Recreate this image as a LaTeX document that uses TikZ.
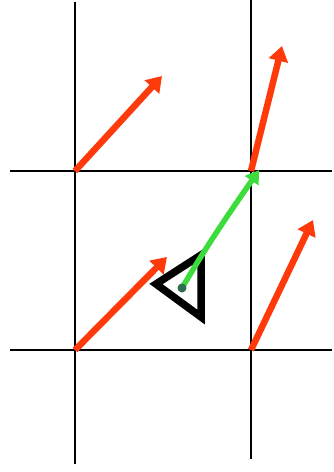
\documentclass[tikz,border=0pt]{standalone}
\usetikzlibrary{arrows.meta}
\definecolor{vred}{HTML}{FF3A0A}
\definecolor{vgreen}{HTML}{3CDC3C}
\definecolor{dotgreen}{HTML}{2E6E50}
\begin{document}
\begin{tikzpicture}[x=1pt,y=-1pt,
  grid/.style={black,line width=2pt},
  vec/.style={vred,line width=6.5pt,-{Triangle[length=15pt,width=19pt]}},
  gvec/.style={vgreen,line width=5.5pt,-{Triangle[length=13pt,width=16pt]}},
  eye/.style={black,line width=7.5pt,line join=miter}]
\useasboundingbox (0,0) rectangle (334,472);
% grid
\coordinate (A) at (75,171);
\coordinate (B) at (251,171);
\coordinate (C) at (75,350);
\coordinate (D) at (251,350);
\coordinate (v1top) at (75,2);
\coordinate (v1bot) at (75,464);
\coordinate (v2top) at (251,0);
\coordinate (v2bot) at (251,459);
\coordinate (h1l) at (10,171);
\coordinate (h1r) at (332,171);
\coordinate (h2l) at (10,350);
\coordinate (h2r) at (332,350);
\draw[grid] (v1top) -- (v1bot);
\draw[grid] (v2top) -- (v2bot);
\draw[grid] (h1l) -- (h1r);
\draw[grid] (h2l) -- (h2r);
% red vectors
\coordinate (tA) at (162,76);
\coordinate (tB) at (282,46);
\coordinate (tC) at (167,257);
\coordinate (tD) at (313,220);
\draw[vec] (A) -- (tA);
\draw[vec] (B) -- (tB);
\draw[vec] (C) -- (tC);
\draw[vec] (D) -- (tD);
% eye triangle
\coordinate (e1) at (156,284);
\coordinate (e2) at (201,255);
\coordinate (e3) at (201,317);
\draw[eye] (e1) -- (e2) -- (e3) -- cycle;
% green interpolated vector
\coordinate (P) at (182,288);
\coordinate (gT) at (259,170);
\draw[gvec] (P) .. controls (210,240) and (235,205) .. (gT);
\fill[dotgreen] (P) circle (4.5pt);
\end{tikzpicture}
\end{document}
